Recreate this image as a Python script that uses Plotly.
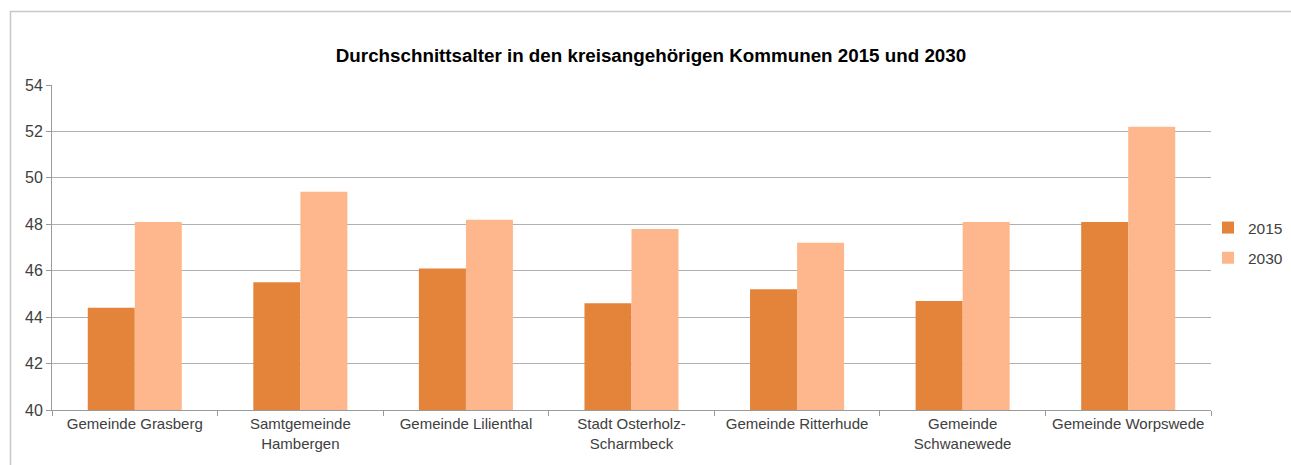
import plotly.graph_objects as go

categories = ["Gemeinde Grasberg", "Samtgemeinde<br>Hambergen", "Gemeinde Lilienthal",
              "Stadt Osterholz-<br>Scharmbeck", "Gemeinde Ritterhude", "Gemeinde<br>Schwanewede",
              "Gemeinde Worpswede"]
values_2015 = [44.4, 45.5, 46.1, 44.6, 45.2, 44.7, 48.1]
values_2030 = [48.1, 49.4, 48.2, 47.8, 47.2, 48.1, 52.2]
series_names = ["2015", "2030"]
y_ticks = [40, 42, 44, 46, 48, 50, 52, 54]

OFF = 0  # body margin removed by post_script
W, H = 1291 - OFF, 465 - OFF
L, R, T, B = 52 - OFF, 1211 - OFF, 85 - OFF, 410 - OFF

fig = go.Figure()
fig.add_trace(go.Bar(x=categories, y=values_2015, name=series_names[0],
                     marker=dict(color="#E3843A", line=dict(width=0)), legendgroup="a"))
fig.add_trace(go.Bar(x=categories, y=values_2030, name=series_names[1],
                     marker=dict(color="#FEB78D", line=dict(width=0)), legendgroup="b"))

pw, ph = R - L, B - T
def px2x(x):
    return (x - OFF - L) / pw
def py2y(y):
    return (B - (y - OFF)) / ph

fig.update_layout(
    width=W, height=H,
    margin=dict(l=L, r=W - R, t=T, b=H - B, autoexpand=False),
    paper_bgcolor="white", plot_bgcolor="white",
    barmode="group", bargap=0.432, bargroupgap=0,
    font=dict(family="Liberation Sans, Arial, sans-serif", color="#404040"),
    title=dict(text="<b>Durchschnittsalter in den kreisangehörigen Kommunen 2015 und 2030</b>",
               x=(651 - OFF) / W, xanchor="center", y=1 - (55 - OFF) / H, yanchor="middle",
               font=dict(size=18.8, color="#000000", family="Liberation Sans, Arial, sans-serif")),
    legend=dict(x=px2x(1208), xanchor="left", y=py2y(243), yanchor="middle",
                font=dict(size=15.5, color="#404040"), tracegroupgap=7,
                bgcolor="rgba(0,0,0,0)"),
    xaxis=dict(showline=True, linecolor="#9a9a9a", linewidth=1,
               ticks="outside", ticklen=5, tickcolor="#9a9a9a",
               tickson="boundaries", showgrid=False,
               tickfont=dict(size=15, color="#404040"), fixedrange=True),
    yaxis=dict(range=[40, 54], tickvals=y_ticks, showline=True, linecolor="#9a9a9a", linewidth=1,
               ticks="outside", ticklen=5, tickcolor="#9a9a9a",
               showgrid=True, gridcolor="#b0b0b0", gridwidth=1, zeroline=False,
               tickfont=dict(size=16, color="#404040"), fixedrange=True),
    shapes=[dict(type="rect", xref="paper", yref="paper",
                 x0=px2x(10.5), x1=px2x(1310), y0=py2y(11.5), y1=py2y(490),
                 line=dict(color="#c8c8c8", width=1.5), fillcolor="rgba(0,0,0,0)", layer="below")],
    showlegend=True,
)

fig.write_html("out.html", config={"displayModeBar": False},
               post_script="document.documentElement.style.overflow='hidden';"
                           "document.body.style.overflow='hidden';"
                           "document.body.style.margin='0';")
